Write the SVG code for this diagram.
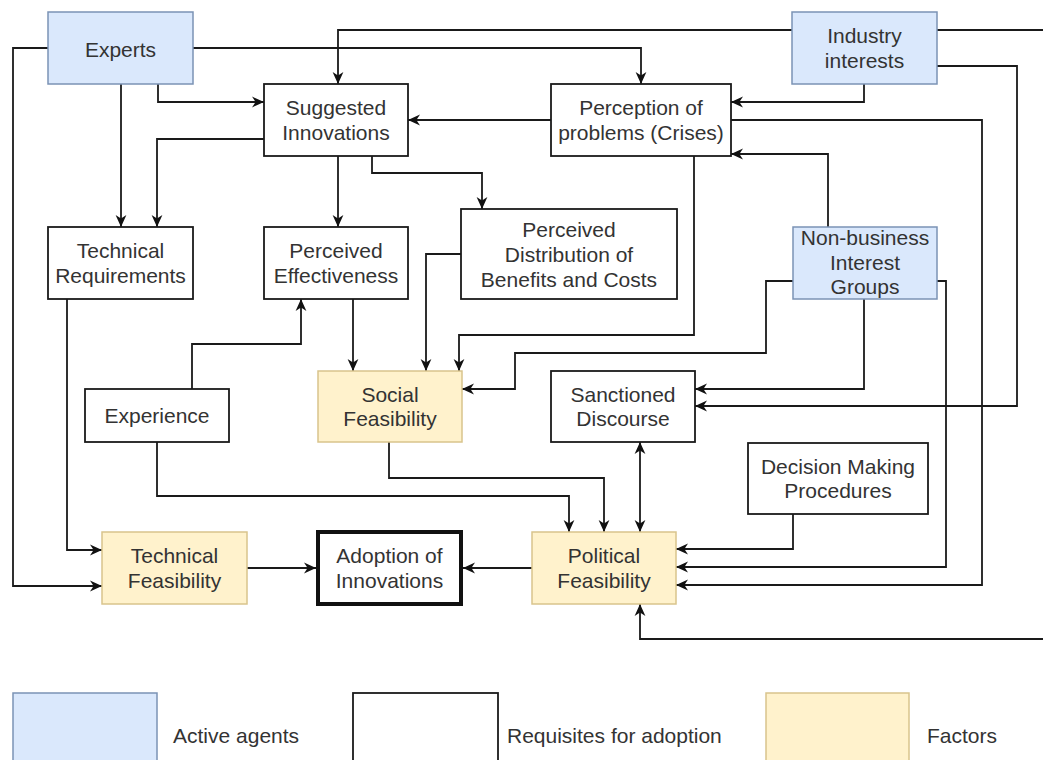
<svg xmlns="http://www.w3.org/2000/svg" width="1043" height="760" viewBox="0 0 1043 760">
  <defs>
    <marker id="arrow" viewBox="0 0 10 10" refX="10" refY="5" markerUnits="userSpaceOnUse" markerWidth="12" markerHeight="12" orient="auto-start-reverse">
      <path d="M0,0.5 L10,5 L0,9.5 L3,5 Z" fill="#111"/>
    </marker>
    <style>
      .agent { fill: #dae8fc; stroke: #7b93b5; stroke-width: 1.5; }
      .req { fill: #ffffff; stroke: #1a1a1a; stroke-width: 1.8; }
      .factor { fill: #fff2cc; stroke: #d9c48c; stroke-width: 1.5; }
      .goal { fill: #ffffff; stroke: #111; stroke-width: 4; }
      text { font-family: "Liberation Sans", Arial, sans-serif; font-size: 21px; fill: #333; }
      .c { text-anchor: middle; }
      .edge { fill: none; stroke: #1a1a1a; stroke-width: 1.8; }
      .to { marker-end: url(#arrow); }
      .both { marker-start: url(#arrow); marker-end: url(#arrow); }
    </style>
  </defs>
  <rect width="1043" height="760" fill="#ffffff"/>

  <!-- connectors -->
  <g id="connectors">
    <path class="edge to" d="M48,48 H13 V586 H102"/>
    <path class="edge to" d="M193,48 H641 V84"/>
    <path class="edge to" d="M792,30 H338 V84"/>
    <path class="edge to" d="M158,84 V102 H264"/>
    <path class="edge to" d="M121,84 V227"/>
    <path class="edge to" d="M264,139 H157 V227"/>
    <path class="edge to" d="M338,156 V227"/>
    <path class="edge to" d="M372,156 V173 H482 V209"/>
    <path class="edge to" d="M551,120 H408"/>
    <path class="edge to" d="M864,84 V102 H731"/>
    <path class="edge to" d="M937,66 H1017 V406 H695"/>
    <path class="edge to" d="M937,30 H1060 V639 H640 V604"/>
    <path class="edge to" d="M731,120 H982 V585 H676"/>
    <path class="edge to" d="M694,156 V335 H459 V371"/>
    <path class="edge to" d="M828,227 V154 H731"/>
    <path class="edge to" d="M793,281 H766 V353 H515 V389 H462"/>
    <path class="edge to" d="M864,299 V389 H695"/>
    <path class="edge to" d="M461,254 H426 V371"/>
    <path class="edge to" d="M353,299 V371"/>
    <path class="edge to" d="M192,389 V344 H301 V299"/>
    <path class="edge to" d="M67,299 V550 H102"/>
    <path class="edge to" d="M157,442 V496 H569 V532"/>
    <path class="edge to" d="M389,442 V478 H604 V532"/>
    <path class="edge both" d="M640,442 V532"/>
    <path class="edge to" d="M793,514 V549 H676"/>
    <path class="edge to" d="M937,281 H946 V567 H676"/>
    <path class="edge to" d="M247,568 H316"/>
    <path class="edge to" d="M532,568 H463"/>
  </g>

  <!-- nodes -->
  <g id="experts">
    <rect class="agent" x="48" y="12" width="145" height="72"/>
    <text class="c" x="120.5" y="57">Experts</text>
  </g>
  <g id="industry-interests">
    <rect class="agent" x="792" y="12" width="145" height="72"/>
    <text class="c" x="864.5" y="43">Industry</text>
    <text class="c" x="864.5" y="68">interests</text>
  </g>
  <g id="suggested-innovations">
    <rect class="req" x="264" y="84" width="144" height="72"/>
    <text class="c" x="336" y="115">Suggested</text>
    <text class="c" x="336" y="140">Innovations</text>
  </g>
  <g id="perception-of-problems">
    <rect class="req" x="551" y="84" width="180" height="72"/>
    <text class="c" x="641" y="115">Perception of</text>
    <text class="c" x="641" y="140">problems (Crises)</text>
  </g>
  <g id="technical-requirements">
    <rect class="req" x="48" y="227" width="145" height="72"/>
    <text class="c" x="120.5" y="258">Technical</text>
    <text class="c" x="120.5" y="283">Requirements</text>
  </g>
  <g id="perceived-effectiveness">
    <rect class="req" x="264" y="227" width="144" height="72"/>
    <text class="c" x="336" y="258">Perceived</text>
    <text class="c" x="336" y="283">Effectiveness</text>
  </g>
  <g id="perceived-distribution">
    <rect class="req" x="461" y="209" width="216" height="90"/>
    <text class="c" x="569" y="237">Perceived</text>
    <text class="c" x="569" y="262">Distribution of</text>
    <text class="c" x="569" y="287">Benefits and Costs</text>
  </g>
  <g id="non-business-interest-groups">
    <rect class="agent" x="793" y="227" width="144" height="72"/>
    <text class="c" x="865" y="245">Non-business</text>
    <text class="c" x="865" y="270">Interest</text>
    <text class="c" x="865" y="294">Groups</text>
  </g>
  <g id="experience">
    <rect class="req" x="85" y="389" width="144" height="53"/>
    <text class="c" x="157" y="423">Experience</text>
  </g>
  <g id="social-feasibility">
    <rect class="factor" x="318" y="371" width="144" height="71"/>
    <text class="c" x="390" y="402">Social</text>
    <text class="c" x="390" y="426">Feasibility</text>
  </g>
  <g id="sanctioned-discourse">
    <rect class="req" x="551" y="371" width="144" height="71"/>
    <text class="c" x="623" y="402">Sanctioned</text>
    <text class="c" x="623" y="426">Discourse</text>
  </g>
  <g id="decision-making-procedures">
    <rect class="req" x="748" y="443" width="180" height="71"/>
    <text class="c" x="838" y="474">Decision Making</text>
    <text class="c" x="838" y="498">Procedures</text>
  </g>
  <g id="technical-feasibility">
    <rect class="factor" x="102" y="532" width="145" height="72"/>
    <text class="c" x="174.5" y="563">Technical</text>
    <text class="c" x="174.5" y="588">Feasibility</text>
  </g>
  <g id="adoption-of-innovations">
    <rect class="goal" x="318" y="532" width="143" height="72"/>
    <text class="c" x="389.5" y="563">Adoption of</text>
    <text class="c" x="389.5" y="588">Innovations</text>
  </g>
  <g id="political-feasibility">
    <rect class="factor" x="532" y="532" width="144" height="72"/>
    <text class="c" x="604" y="563">Political</text>
    <text class="c" x="604" y="588">Feasibility</text>
  </g>

  <!-- legend -->
  <g id="legend">
    <rect class="agent" x="13" y="693" width="144" height="80"/>
    <text x="173" y="743">Active agents</text>
    <rect class="req" x="353" y="693" width="145" height="80"/>
    <text x="507" y="743">Requisites for adoption</text>
    <rect class="factor" x="766" y="693" width="143" height="80"/>
    <text x="927" y="743">Factors</text>
  </g>
</svg>
